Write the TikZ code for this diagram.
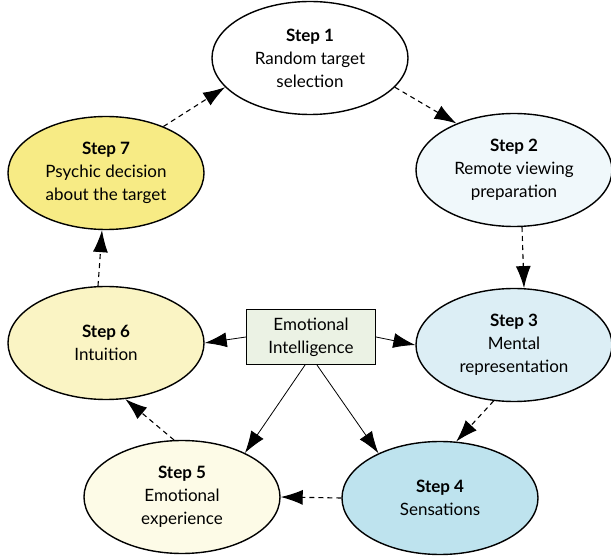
\documentclass[tikz,border=0pt]{standalone}
\usepackage{fontspec}
\setmainfont{Lato}
\usepackage{xcolor}
\usepackage{tikz}
\usetikzlibrary{shapes,arrows.meta,positioning,calc}

\definecolor{stepone}{HTML}{FFFFFF}
\definecolor{steptwo}{HTML}{F0F8FB}
\definecolor{stepthree}{HTML}{DCEEF5}
\definecolor{stepfour}{HTML}{BEE3EE}
\definecolor{stepfive}{HTML}{FDFBE7}
\definecolor{stepsix}{HTML}{FAF4C4}
\definecolor{stepseven}{HTML}{F7EB85}
\definecolor{eibox}{HTML}{EBF2E4}

\begin{document}
\begin{tikzpicture}[x=1pt, y=1pt,
    stage/.style={ellipse, draw, line width=1.4pt, minimum width=196pt, minimum height=113pt,
        inner sep=0pt, align=center, font=\fontsize{17}{23}\selectfont},
    flow/.style={-{Latex[length=22pt,width=15pt]}, dashed, dash pattern=on 5pt off 4pt, line width=1.1pt},
    link/.style={-{Latex[length=22pt,width=15pt]}, line width=0.8pt}]
    \useasboundingbox (0,0) rectangle (611,555);

    \node (s1) [stage, fill=stepone] at (310,497) {\textbf{Step 1}\\Random target\\selection};
    \node (s2) [stage, fill=steptwo] at (514,385) {\textbf{Step 2}\\Remote viewing\\preparation};
    \node (s3) [stage, fill=stepthree] at (514,210) {\textbf{Step 3}\\Mental\\representation};
    \node (s4) [stage, fill=stepfour] at (440,57) {\textbf{Step 4}\\Sensations};
    \node (s5) [stage, fill=stepfive] at (182,58) {\textbf{Step 5}\\Emotional\\experience};
    \node (s6) [stage, fill=stepsix] at (106,212) {\textbf{Step 6}\\Intuition};
    \node (s7) [stage, fill=stepseven] at (106,382) {\textbf{Step 7}\\Psychic decision\\about the target};

    \node (ei) [rectangle, draw, line width=1.1pt, fill=eibox, minimum width=129pt, minimum height=55pt,
        align=center, font=\fontsize{17}{23}\selectfont] at (311,218) {Emotional\\Intelligence};

    % cycle
    \draw [flow] (s1.-19) -- (s2.141);
    \draw [flow] (s2.-82) -- (s3.80);
    \draw [flow] (s3.250) -- (s4.74);
    \draw [flow] (s4.180) -- (s5.0);
    \draw [flow] (s5.98) -- (s6.289);
    \draw [flow] (s6.98) -- (s7.266);
    \draw [flow] (s7.39) -- (s1.199);

    % emotional intelligence
    \draw [link] (ei.west) -- (s6.east);
    \draw [link] (ei.east) -- (s3.west);
    \draw [link] ([xshift=-6pt]ei.south) -- (s5.35);
    \draw [link] ([xshift=6pt]ei.south) -- (s4.144);
\end{tikzpicture}
\end{document}
